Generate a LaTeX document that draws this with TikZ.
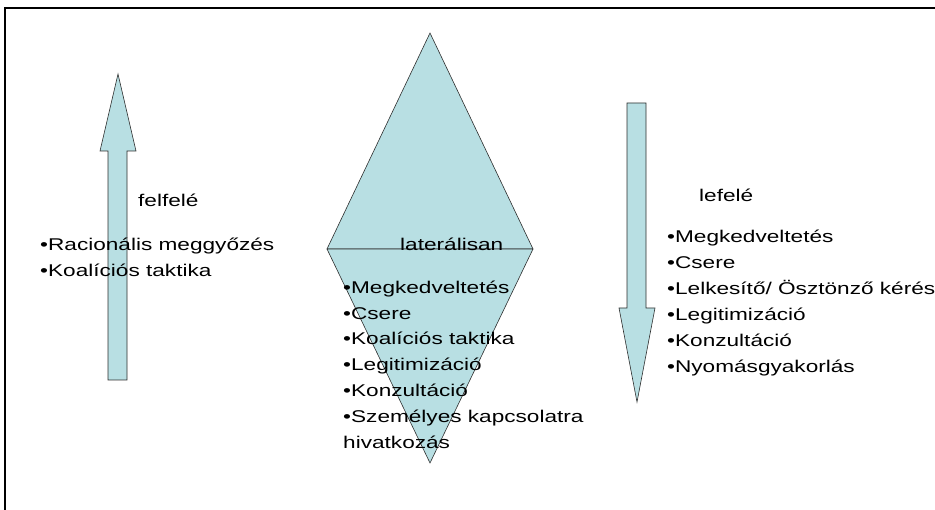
\documentclass[tikz,border=0pt]{standalone}
\usepackage{fontspec}
\usepackage{graphicx}
\setmainfont{Liberation Sans}
\definecolor{fillc}{RGB}{184,223,227}
\definecolor{edgec}{RGB}{45,45,45}
\newcommand{\wide}[1]{\scalebox{1.33}[1]{#1}}
\begin{document}
\begin{tikzpicture}[x=1pt,y=-1pt,
  shp/.style={fill=fillc,draw=edgec,line width=0.6pt,line join=miter},
  txt/.style={anchor=base west,inner sep=0pt,font=\fontsize{17}{25.8}\selectfont},
  frm/.style={line width=2pt,line join=miter}]
\useasboundingbox (0,0) rectangle (935,510);
% frame
\draw[frm] (5,510) -- (5,8) -- (935,8);
% up arrow
\draw[shp] (118,74) -- (136,151) -- (127,151) -- (127,380) -- (108,380) -- (108,151) -- (100,151) -- cycle;
% down arrow
\draw[shp] (627,103) -- (646,103) -- (646,308) -- (655,308) -- (637,402) -- (619,308) -- (627,308) -- cycle;
% diamond: two triangles
\draw[shp] (430,33) -- (533,249) -- (327,249) -- cycle;
\draw[shp] (327,249) -- (533,249) -- (430,463) -- cycle;
% left texts
\node[txt] (up) at (138,207) {\wide{felfelé}};
\node[txt] (l1) at (40,251) {\wide{•Racionális meggyőzés}};
\node[txt] (l2) at (40,276.7) {\wide{•Koalíciós taktika}};
% middle texts
\node[txt] (lat) at (400,251) {\wide{laterálisan}};
\foreach \t [count=\i] in {•Megkedveltetés,•Csere,•Koalíciós taktika,•Legitimizáció,•Konzultáció,•Személyes kapcsolatra,hivatkozás}
  \node[txt] (m\i) at (343,{293.3+25.8*(\i-1)}) {\wide{\t}};
% right texts
\node[txt] (down) at (699,202) {\wide{lefelé}};
\foreach \t [count=\i] in {•Megkedveltetés,•Csere,•Lelkesítő/ Ösztönző kérés,•Legitimizáció,•Konzultáció,•Nyomásgyakorlás}
  \node[txt] (r\i) at (667,{243+25.9*(\i-1)}) {\wide{\t}};
\end{tikzpicture}
\end{document}
